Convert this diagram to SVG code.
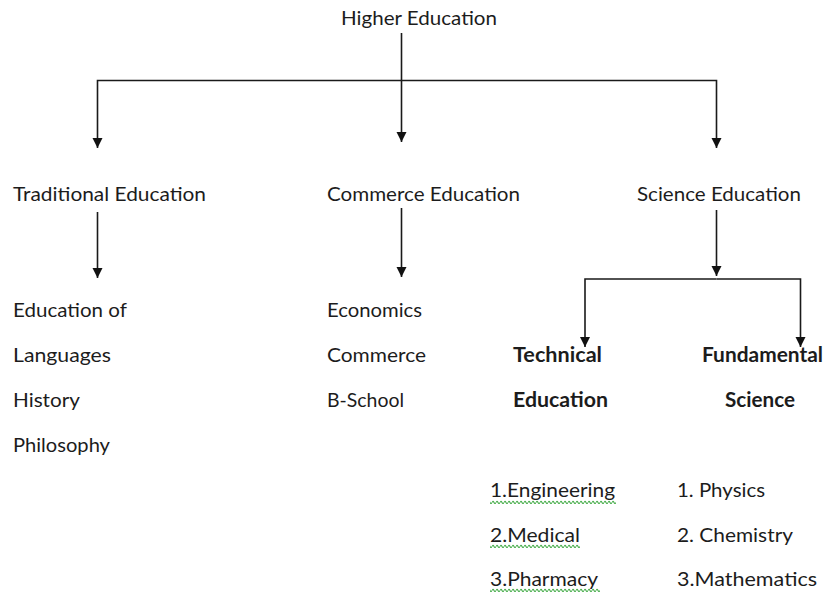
<svg xmlns="http://www.w3.org/2000/svg" width="825" height="592" viewBox="0 0 825 592">
  <style>
    text { font-family: Lato, "Open Sans", "Noto Sans", sans-serif; font-size: 20px; fill: #1c1c1c; }
    .b { font-weight: bold; }
    .conn { fill: none; stroke: #1a1a1a; stroke-width: 1.6; marker-end: url(#arrow); }
    .squig { fill: url(#squiggle); }
  </style>
  <defs>
    <marker id="arrow" markerUnits="userSpaceOnUse" markerWidth="11" markerHeight="11" refX="10" refY="5.5" orient="auto">
      <path d="M0,0.5 L10,5.5 L0,10.5 z" fill="#111"/>
    </marker>
    <pattern id="squiggle" width="4" height="4" patternUnits="userSpaceOnUse">
      <path d="M0,2.5 Q1,0.3 2,2.5 T4,2.5" fill="none" stroke="#4caf50" stroke-width="1.1"/>
    </pattern>
  </defs>

  <rect width="825" height="592" fill="#ffffff"/>

  <!-- connectors -->
  <g id="connectors">
    <path class="conn" d="M401.5,33 V142"/>
    <path class="conn" d="M401.5,80.5 H97.5 V148"/>
    <path class="conn" d="M401.5,80.5 H716.5 V148"/>
    <path class="conn" d="M97.5,212 V278"/>
    <path class="conn" d="M401.5,208 V277"/>
    <path class="conn" d="M716.5,210 V276"/>
    <path class="conn" d="M716.5,279 H585 V347"/>
    <path class="conn" d="M716.5,279 H800.5 V347"/>
  </g>

  <!-- root -->
  <g id="higher-education">
    <text x="341" y="25" textLength="156" lengthAdjust="spacingAndGlyphs">Higher Education</text>
  </g>

  <!-- second level -->
  <g id="traditional-education">
    <text x="13" y="201" textLength="193" lengthAdjust="spacingAndGlyphs">Traditional Education</text>
  </g>
  <g id="commerce-education">
    <text x="327" y="201" textLength="193" lengthAdjust="spacingAndGlyphs">Commerce Education</text>
  </g>
  <g id="science-education">
    <text x="637" y="201" textLength="164" lengthAdjust="spacingAndGlyphs">Science Education</text>
  </g>

  <!-- traditional subjects -->
  <g id="traditional-subjects">
    <text x="13" y="317" textLength="114" lengthAdjust="spacingAndGlyphs">Education of</text>
    <text x="13" y="362" textLength="98" lengthAdjust="spacingAndGlyphs">Languages</text>
    <text x="13" y="407" textLength="67" lengthAdjust="spacingAndGlyphs">History</text>
    <text x="13" y="452" textLength="97" lengthAdjust="spacingAndGlyphs">Philosophy</text>
  </g>

  <!-- commerce subjects -->
  <g id="commerce-subjects">
    <text x="327" y="317" textLength="95" lengthAdjust="spacingAndGlyphs">Economics</text>
    <text x="327" y="362" textLength="99" lengthAdjust="spacingAndGlyphs">Commerce</text>
    <text x="327" y="407" textLength="77" lengthAdjust="spacingAndGlyphs">B-School</text>
  </g>

  <!-- science branches -->
  <g id="technical-education">
    <text class="b" x="513" y="362" textLength="89" lengthAdjust="spacingAndGlyphs">Technical</text>
    <text class="b" x="513" y="407" textLength="95" lengthAdjust="spacingAndGlyphs">Education</text>
  </g>
  <g id="fundamental-science">
    <text class="b" x="702" y="362" textLength="121" lengthAdjust="spacingAndGlyphs">Fundamental</text>
    <text class="b" x="725" y="407" textLength="70" lengthAdjust="spacingAndGlyphs">Science</text>
  </g>

  <!-- technical subjects, with spell-check squiggles -->
  <g id="technical-subjects">
    <text x="490" y="497" textLength="125" lengthAdjust="spacingAndGlyphs">1.Engineering</text>
    <rect class="squig" x="490" y="500" width="126" height="4"/>
    <text x="490" y="542" textLength="90" lengthAdjust="spacingAndGlyphs">2.Medical</text>
    <rect class="squig" x="490" y="544" width="90" height="4"/>
    <text x="490" y="586" textLength="108" lengthAdjust="spacingAndGlyphs">3.Pharmacy</text>
    <rect class="squig" x="490" y="588" width="110" height="4"/>
  </g>

  <!-- science subjects -->
  <g id="science-subjects">
    <text x="677" y="497" textLength="88" lengthAdjust="spacingAndGlyphs">1. Physics</text>
    <text x="677" y="542" textLength="116" lengthAdjust="spacingAndGlyphs">2. Chemistry</text>
    <text x="677" y="586" textLength="140" lengthAdjust="spacingAndGlyphs">3.Mathematics</text>
  </g>
</svg>
